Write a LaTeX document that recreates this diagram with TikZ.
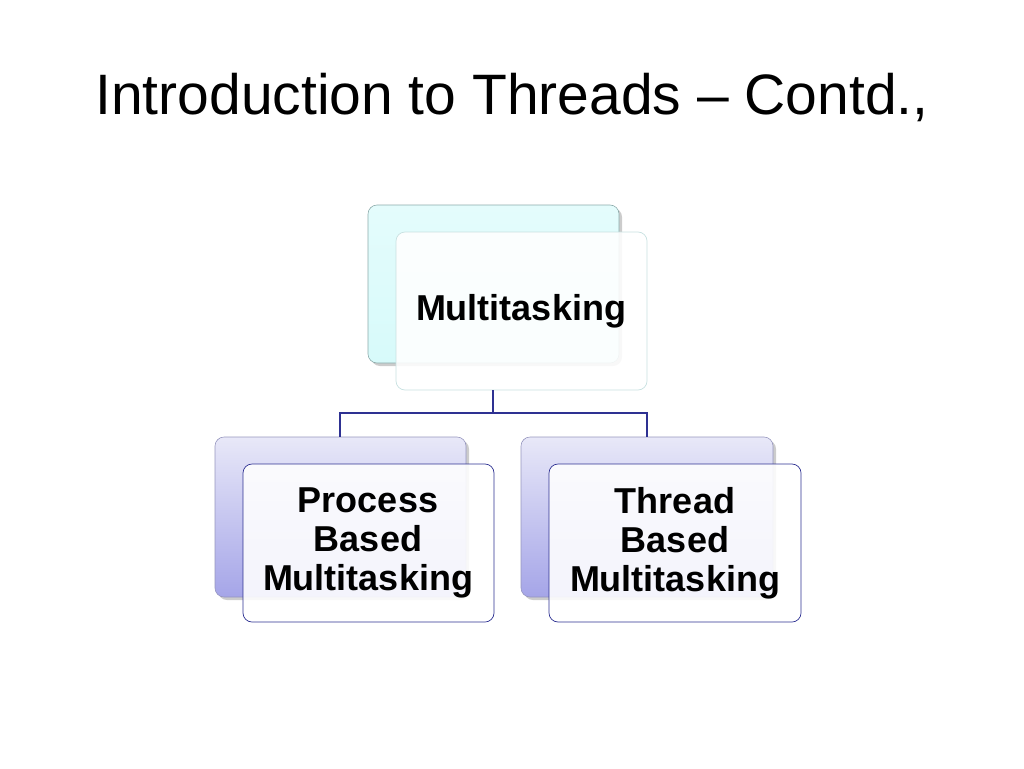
\documentclass[tikz,border=0pt]{standalone}
\usepackage{fontspec}
\setmainfont{Liberation Sans}
\begin{document}
\begin{tikzpicture}[x=1pt,y=-1pt,
 front/.style={rounded corners=9pt,fill=white,fill opacity=0.88,line width=0.7pt},
 lbl/.style={font=\bfseries\fontsize{36}{39}\selectfont,align=center},
 conn/.style={draw={rgb,255:red,46;green,49;blue,146},line width=1.8pt}]
\useasboundingbox (0,0) rectangle (1024,768);
\node (title) at (512,97) {\fontsize{57}{64}\selectfont Introduction to Threads -- Contd.,};
% top
\fill[gray!40,rounded corners=9pt] (371,208) rectangle (622,366);
\shade[rounded corners=9pt,top color={rgb,255:red,228;green,252;blue,252},bottom color={rgb,255:red,215;green,250;blue,250}] (368,205) rectangle (619,363);
\draw[rounded corners=9pt,draw={rgb,255:red,140;green,170;blue,170},line width=0.6pt] (368,205) rectangle (619,363);
\path[front,draw={rgb,255:red,200;green,225;blue,225}] (396,232) rectangle (647,390);
\node[lbl] (multi) at (521,311) {Multitasking};
\coordinate (mb) at (493,390);
% left
\fill[gray!40,rounded corners=9pt] (218,440) rectangle (469,600);
\shade[rounded corners=9pt,top color={rgb,255:red,232;green,232;blue,248},bottom color={rgb,255:red,165;green,165;blue,232}] (215,437) rectangle (466,597);
\draw[rounded corners=9pt,draw={rgb,255:red,150;green,150;blue,190},line width=0.6pt] (215,437) rectangle (466,597);
\coordinate (lt) at (340,437);
\path[front,draw={rgb,255:red,46;green,49;blue,146}] (243,464) rectangle (494,622);
\node[lbl] (proc) at (368,543) {Process\\Based\\Multitasking};
% right
\fill[gray!40,rounded corners=9pt] (524,440) rectangle (776,600);
\shade[rounded corners=9pt,top color={rgb,255:red,232;green,232;blue,248},bottom color={rgb,255:red,165;green,165;blue,232}] (521,437) rectangle (773,597);
\draw[rounded corners=9pt,draw={rgb,255:red,150;green,150;blue,190},line width=0.6pt] (521,437) rectangle (773,597);
\coordinate (rt) at (647,437);
\path[front,draw={rgb,255:red,46;green,49;blue,146}] (549,464) rectangle (801,622);
\node[lbl] (thr) at (675,543) {Thread\\Based\\Multitasking};
% connectors
\draw[conn] (mb) -- (493,413) -| (lt);
\draw[conn] (mb) -- (493,413) -| (rt);
\end{tikzpicture}
\end{document}
